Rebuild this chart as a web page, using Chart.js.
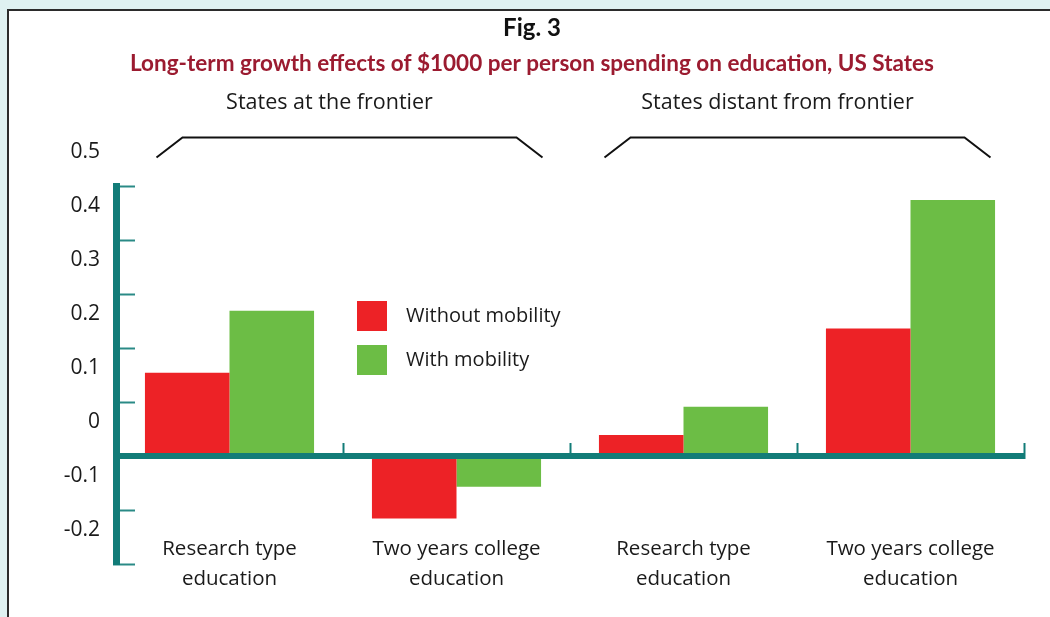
<!DOCTYPE html>
<html lang="en">
<head>
<meta charset="UTF-8">
<title>Fig. 3 - Long-term growth effects of education spending</title>
<script src="https://cdn.jsdelivr.net/npm/chart.js"></script>
<style>
    body {
        margin: 0;
        width: 1050px;
        height: 617px;
        overflow: hidden;
        background: #dff1f1;
        position: relative;
    }
    .panel {
        position: absolute;
        left: 7px;
        top: 9px;
        width: 1060px;
        height: 620px;
        background: #fff;
        border-left: 2px solid #2b2b2b;
        border-top: 2px solid #2b2b2b;
    }
    .wrap {
        position: absolute;
        left: 0;
        top: 0;
        width: 1050px;
        height: 617px;
    }
</style>
</head>
<body>
<div class="panel"></div>
<div class="wrap"><canvas id="chart"></canvas></div>

<script>
    const categories = [
        ['Research type', 'education'],
        ['Two years college', 'education'],
        ['Research type', 'education'],
        ['Two years college', 'education']
    ];
    const groupLabels = ['States at the frontier', 'States distant from frontier'];
    const groupRanges = [[0, 1], [2, 3]];
    const withoutMobility = [0.155, -0.115, 0.04, 0.237];
    const withMobility = [0.27, -0.056, 0.092, 0.475];
    const yTicks = [-0.2, -0.1, 0, 0.1, 0.2, 0.3, 0.4, 0.5];

    const RED = '#ed2226';
    const GREEN = '#6cbd45';
    const TEAL = '#127c78';
    const TEXT = '#1a1a1a';
    const BODY_FONT = "'Open Sans', 'Noto Sans', sans-serif";
    const HEAD_FONT = "Lato, 'Open Sans', sans-serif";

    // brackets, group headings and the legend box in the middle
    const decor = {
        id: 'decor',
        afterDraw(chart) {
            const { ctx, chartArea } = chart;
            const x = chart.scales.x;
            const pads = [[73, 86], [79, 80]];
            ctx.save();
            ctx.strokeStyle = '#111';
            ctx.lineWidth = 2;
            ctx.fillStyle = TEXT;
            ctx.font = '21.5px ' + BODY_FONT;
            ctx.textAlign = 'center';
            ctx.textBaseline = 'middle';
            const top = chartArea.top - 49;
            const foot = chartArea.top - 29;
            groupRanges.forEach((r, i) => {
                const xl = x.getPixelForValue(r[0]) - pads[i][0];
                const xr = x.getPixelForValue(r[1]) + pads[i][1];
                ctx.beginPath();
                ctx.moveTo(xl, foot);
                ctx.lineTo(xl + 26, top);
                ctx.lineTo(xr - 26, top);
                ctx.lineTo(xr, foot);
                ctx.stroke();
                ctx.fillText(groupLabels[i], (xl + xr) / 2 - 20, chartArea.top - 84);
            });

            ctx.font = '20px ' + BODY_FONT;
            ctx.textAlign = 'left';
            chart.data.datasets.forEach((ds, i) => {
                const sx = chartArea.left + 241;
                const sy = chartArea.top + 114.5 + i * 44;
                ctx.fillStyle = ds.backgroundColor;
                ctx.fillRect(sx, sy, 30, 30);
                ctx.fillStyle = TEXT;
                ctx.fillText(ds.label, sx + 49, sy + 15);
            });
            ctx.restore();
        }
    };

    new Chart(document.getElementById('chart'), {
        type: 'bar',
        data: {
            labels: categories,
            datasets: [{
                label: 'Without mobility',
                data: withoutMobility,
                backgroundColor: RED
            }, {
                label: 'With mobility',
                data: withMobility,
                backgroundColor: GREEN
            }]
        },
        options: {
            responsive: true,
            maintainAspectRatio: false,
            animation: false,
            datasets: {
                bar: { barPercentage: 1, categoryPercentage: 0.745 }
            },
            layout: {
                padding: { left: 40, right: 26, top: 0, bottom: 52.5 }
            },
            plugins: {
                legend: { display: false },
                tooltip: { enabled: false },
                title: {
                    display: true,
                    text: 'Fig. 3',
                    color: '#111',
                    font: { family: HEAD_FONT, weight: 'bold', size: 24 },
                    padding: { top: 13.6, bottom: 0 }
                },
                subtitle: {
                    display: true,
                    text: 'Long-term growth effects of $1000 per person spending on education, US States',
                    color: '#9b1b30',
                    font: { family: HEAD_FONT, weight: 'bold', size: 22.5 },
                    padding: { top: 8.1, bottom: 109 }
                }
            },
            scales: {
                x: {
                    position: { y: 0 },
                    grid: {
                        display: true,
                        drawOnChartArea: false,
                        drawTicks: true,
                        tickLength: -16,
                        tickColor: TEAL,
                        tickWidth: 2
                    },
                    border: { display: true, color: TEAL, width: 6, z: 1 },
                    ticks: {
                        color: TEXT,
                        padding: 93.5,
                        maxRotation: 0,
                        autoSkip: false,
                        font: { family: BODY_FONT, size: 20.5, lineHeight: 1.46 }
                    },
                    afterFit(scale) {
                        scale.paddingLeft = 0;
                        scale.paddingRight = 0;
                    }
                },
                y: {
                    min: yTicks[0],
                    max: yTicks[yTicks.length - 1],
                    afterBuildTicks(scale) {
                        scale.ticks = yTicks.map(v => ({ value: v }));
                    },
                    grid: {
                        display: true,
                        drawOnChartArea: false,
                        drawTicks: true,
                        tickLength: -19,
                        tickColor: '#2a8a86',
                        tickWidth: 2
                    },
                    border: { display: true, color: TEAL, width: 7, z: 1 },
                    ticks: {
                        color: TEXT,
                        padding: 35,
                        labelOffset: -34,
                        font: { family: BODY_FONT, size: 21 },
                        callback: v => String(Math.round(v * 10) / 10)
                    },
                    afterFit(scale) {
                        scale.width = 76;
                        scale.paddingTop = 0;
                        scale.paddingBottom = 0;
                    }
                }
            }
        },
        plugins: [decor]
    });
</script>
</body>
</html>
